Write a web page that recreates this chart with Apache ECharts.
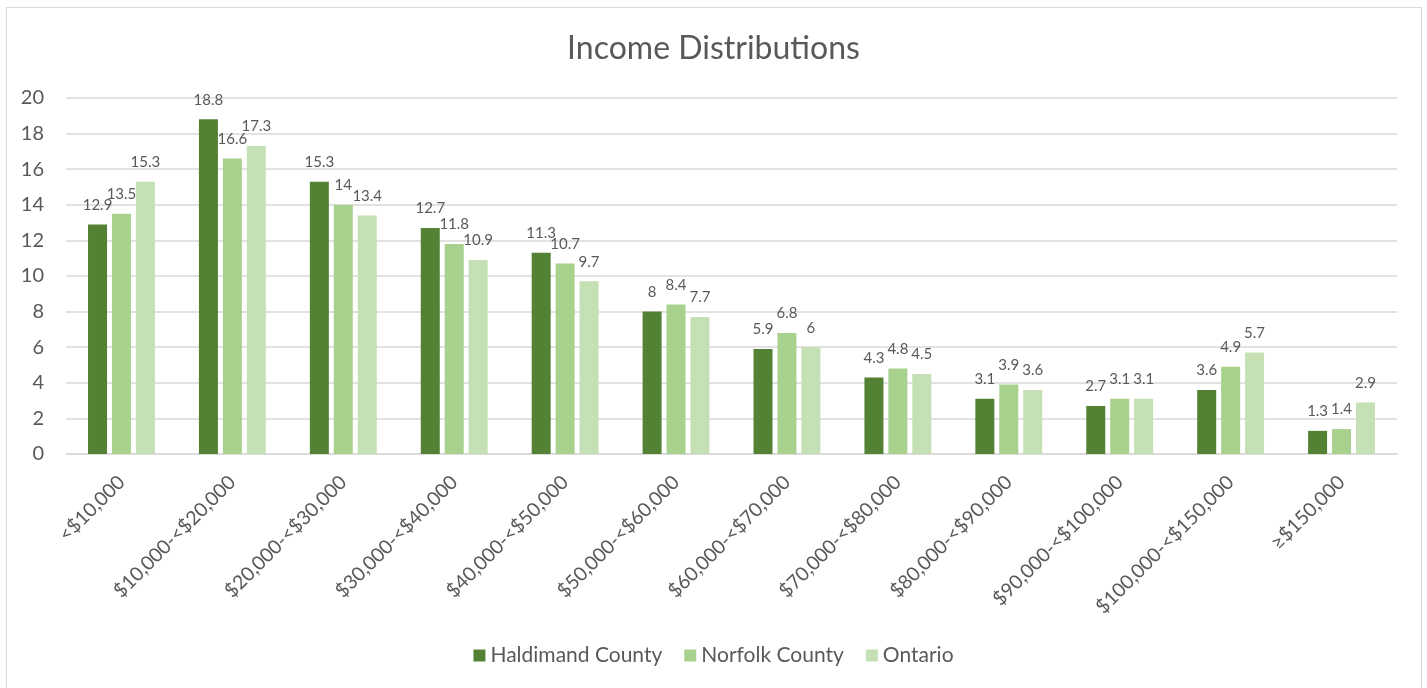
<!DOCTYPE html>
<html>
<head>
<meta charset="utf-8">
<script src="https://cdn.jsdelivr.net/npm/echarts@6/dist/echarts.min.js"></script>
<style>
  html, body { margin: 0; padding: 0; background: #fff; }
  #frame { position: absolute; left: 6px; top: 7px; width: 1416px; height: 700px; border: 1px solid #d9d9d9; box-sizing: border-box; }
  #chart { position: absolute; left: 0; top: 0; width: 1427px; height: 688px; }
</style>
</head>
<body>
<div id="frame"></div>
<div id="chart"></div>
<script>
// Income brackets shown along the x axis
const categories = [
  '<$10,000', '$10,000-<$20,000', '$20,000-<$30,000', '$30,000-<$40,000',
  '$40,000-<$50,000', '$50,000-<$60,000', '$60,000-<$70,000', '$70,000-<$80,000',
  '$80,000-<$90,000', '$90,000-<$100,000', '$100,000-<$150,000', '≥$150,000'
];

// Share of households (%) per bracket
const haldimand = [12.9, 18.8, 15.3, 12.7, 11.3, 8, 5.9, 4.3, 3.1, 2.7, 3.6, 1.3];
const norfolk   = [13.5, 16.6, 14, 11.8, 10.7, 8.4, 6.8, 4.8, 3.9, 3.1, 4.9, 1.4];
const ontario   = [15.3, 17.3, 13.4, 10.9, 9.7, 7.7, 6, 4.5, 3.6, 3.1, 5.7, 2.9];

const seriesNames = ['Haldimand County', 'Norfolk County', 'Ontario'];
const seriesColors = ['#548235', '#a9d18e', '#c5e0b4'];

const FONT = 'Lato, "Open Sans", sans-serif';
const TEXT = '#595959';

const chart = echarts.init(document.getElementById('chart'), null, { renderer: 'canvas' });

function barSeries(name, data, color) {
  return {
    name: name,
    type: 'bar',
    data: data,
    barWidth: 19,
    barGap: '26%',
    itemStyle: { color: color },
    label: {
      show: true,
      position: 'top',
      distance: 12,
      color: TEXT,
      fontFamily: FONT,
      fontSize: 15
    }
  };
}

chart.setOption({
  animation: false,
  textStyle: { fontFamily: FONT },
  title: {
    text: 'Income Distributions',
    left: 'center',
    top: 28,
    textStyle: { color: TEXT, fontFamily: FONT, fontSize: 32, fontWeight: 'normal' }
  },
  legend: {
    data: seriesNames,
    bottom: 17,
    left: 'center',
    icon: 'rect',
    itemWidth: 12,
    itemHeight: 12,
    itemGap: 22,
    textStyle: { color: TEXT, fontFamily: FONT, fontSize: 21 }
  },
  grid: { left: 66, right: 30, top: 98, bottom: 234, containLabel: false },
  xAxis: {
    type: 'category',
    data: categories,
    axisLine: { lineStyle: { color: '#d9d9d9', width: 1.5 } },
    axisTick: { show: false },
    axisLabel: {
      rotate: 45,
      interval: 0,
      margin: 25,
      color: TEXT,
      fontFamily: FONT,
      fontSize: 19.5
    }
  },
  yAxis: {
    type: 'value',
    min: 0,
    max: 20,
    interval: 2,
    axisLine: { show: false },
    axisTick: { show: false },
    splitLine: { lineStyle: { color: '#d9d9d9', width: 1.5 } },
    axisLabel: { color: TEXT, fontFamily: FONT, fontSize: 20, margin: 22 }
  },
  series: [
    barSeries(seriesNames[0], haldimand, seriesColors[0]),
    barSeries(seriesNames[1], norfolk, seriesColors[1]),
    barSeries(seriesNames[2], ontario, seriesColors[2])
  ]
});
</script>
</body>
</html>
